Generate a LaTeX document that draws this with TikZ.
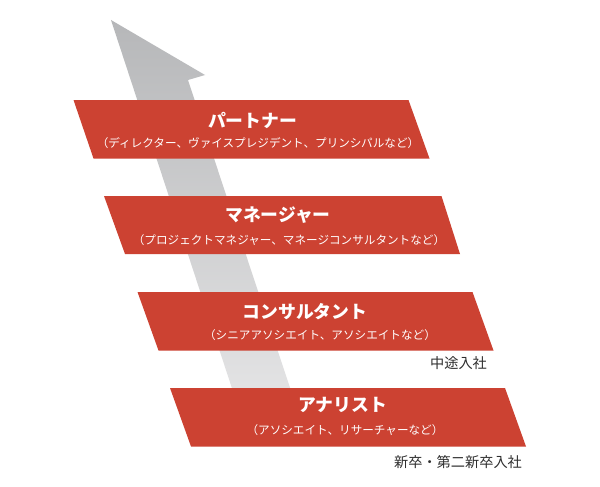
\documentclass[tikz,border=0pt]{standalone}
\usepackage{fontspec}
\newfontfamily\jp{Noto Sans CJK JP}
\definecolor{boxred}{HTML}{CC4232}
\definecolor{arrtop}{HTML}{B6B7B9}
\definecolor{arrbot}{HTML}{E6E6E7}
\definecolor{labgray}{HTML}{2E2E2E}
\begin{document}
\begin{tikzpicture}[x=1pt,y=-1pt,
  rung/.style={fill=boxred,draw=none},
  ttl/.style={text=white,font=\jp\bfseries\fontsize{17.8}{18}\selectfont,inner sep=0pt,anchor=center},
  sub/.style={text=white,font=\jp\fontsize{11.6}{12}\selectfont,inner sep=0pt,anchor=center},
  entry/.style={text=labgray,font=\jp\fontsize{14.2}{15}\selectfont,inner sep=0pt,anchor=center}]
\useasboundingbox[fill=white] (0,0) rectangle (600,487);
% arrow
\shade[top color=arrtop,bottom color=arrbot]
  (111,20) -- (205,75) -- (188,80) -- (300.7,420) -- (242.4,420) -- cycle;
% rungs
\fill[rung] (73.5,100) -- (408.5,100) -- (429.5,158.5) -- (93.5,158.5) -- cycle;
\fill[rung] (104,196) -- (441.5,196) -- (460,254) -- (125,254) -- cycle;
\fill[rung] (137.5,292) -- (472.5,292) -- (493.5,350.5) -- (158.5,350.5) -- cycle;
\fill[rung] (170,388) -- (505,388) -- (526,446.5) -- (191,446.5) -- cycle;
% texts
\node[ttl] (t1) at (252.5,120) {パートナー};
\node[sub] (s1) at (258,143) {（ディレクター、ヴァイスプレジデント、プリンシパルなど）};
\node[ttl] (t2) at (278,215) {マネージャー};
\node[sub] (s2) at (289,240) {（プロジェクトマネジャー、マネージコンサルタントなど）};
\node[ttl] (t3) at (305,312) {コンサルタント};
\node[sub] (s3) at (320,335) {（シニアアソシエイト、アソシエイトなど）};
\node[ttl] (t4) at (342.5,405) {アナリスト};
\node[sub] (s4) at (345,430) {（アソシエイト、リサーチャーなど）};
\node[entry] (e1) at (458.5,363) {中途入社};
\node[entry] (e2) at (458,462) {新卒・第二新卒入社};
\end{tikzpicture}
\end{document}
